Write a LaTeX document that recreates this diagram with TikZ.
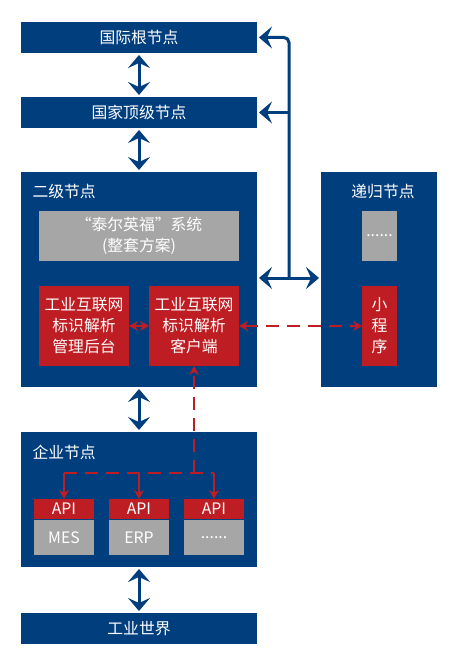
\documentclass[tikz,border=0pt]{standalone}
\usepackage{fontspec}
\setmainfont{Noto Sans CJK SC}
\usetikzlibrary{arrows.meta}

\definecolor{nodeblue}{RGB}{0,62,126}
\definecolor{idred}{RGB}{190,30,35}
\definecolor{boxgray}{RGB}{166,166,166}

\begin{document}
\begin{tikzpicture}[
    x = 1pt, y = -1pt,
    line join=round,
    font = \fontsize{15.8}{21}\selectfont,
    bluebox/.style = {fill=nodeblue, text=white, inner sep=0pt, outer sep=0pt, align=center},
    redbox/.style = {fill=idred, text=white, inner sep=0pt, outer sep=0pt, align=center},
    graybox/.style = {fill=boxgray, text=white, inner sep=0pt, outer sep=0pt, align=center},
    bigtip/.tip = {Stealth[length=13pt, width=22pt, inset=5pt]},
    redtip/.tip = {Stealth[length=9pt, width=10pt, inset=3pt]},
    bigarrow/.style = {nodeblue, line width=3pt, shorten >=2pt, shorten <=2pt},
    redarrow/.style = {idred, line width=1.5pt, -redtip},
    reddash/.style = {redarrow, dash pattern=on 13pt off 8pt}
]

\useasboundingbox[fill=white] (0,0) rectangle (457,666);

\node[bluebox, minimum width=236pt, minimum height=31pt] (root) at (139,37.5) {国际根节点};
\node[bluebox, minimum width=236pt, minimum height=31pt] (top) at (139,112.5) {国家顶级节点};

\node[bluebox, minimum width=236pt, minimum height=215pt] (second) at (139,279.5) {};
\node[text=white, anchor=west] (secondlabel) at (29,192) {二级节点};
\node[graybox, minimum width=200pt, minimum height=50pt] (sys) at (139,236) {“泰尔英福”系统\\(整套方案)};
\node[redbox, minimum width=90pt, minimum height=80pt] (mgmt) at (84,326) {工业互联网\\标识解析\\管理后台};
\node[redbox, minimum width=90pt, minimum height=80pt] (client) at (194,326) {工业互联网\\标识解析\\客户端};

\node[bluebox, minimum width=116pt, minimum height=215pt] (rec) at (379,279.5) {};
\node[text=white] (reclabel) at (383,192) {递归节点};
\node[graybox, minimum width=35pt, minimum height=50pt] (recdots) at (379.5,236) {......};
\node[redbox, minimum width=35pt, minimum height=80pt] (mini) at (379.5,326) {小\\程\\序};

\node[bluebox, minimum width=236pt, minimum height=135pt] (ent) at (139,499.5) {};
\node[text=white, anchor=west] (entlabel) at (29,452) {企业节点};
\node[redbox, minimum width=60pt, minimum height=20pt] (api1) at (64,509) {API};
\node[redbox, minimum width=60pt, minimum height=20pt] (api2) at (139,509) {API};
\node[redbox, minimum width=60pt, minimum height=20pt] (api3) at (214,509) {API};
\node[graybox, minimum width=60pt, minimum height=35pt, anchor=north] (mes) at ([yshift=-1pt]api1.south) {MES};
\node[graybox, minimum width=60pt, minimum height=35pt, anchor=north] (erp) at ([yshift=-1pt]api2.south) {ERP};
\node[graybox, minimum width=60pt, minimum height=35pt, anchor=north] (more) at ([yshift=-1pt]api3.south) {......};

\node[bluebox, minimum width=236pt, minimum height=31pt] (world) at (139,628.5) {工业世界};

\draw[bigarrow, bigtip-bigtip] (root) -- (top);
\draw[bigarrow, bigtip-bigtip] (top) -- (second);
\draw[bigarrow, bigtip-bigtip] (second) -- (ent);
\draw[bigarrow, bigtip-bigtip] (ent) -- (world);

\coordinate (trunk) at (289,278);
\draw[bigarrow, bigtip-bigtip] (second.east |- trunk) -- (rec.west |- trunk);
\draw[bigarrow, shorten <=0pt, rounded corners=5pt, -bigtip] (trunk) -- (trunk |- root.east) -- (root.east);
\draw[bigarrow, shorten <=0pt, -bigtip] (trunk |- top.east) -- (top.east);

\draw[redarrow, redtip-redtip] (mgmt) -- (client);
\draw[reddash, redtip-redtip] (client) -- (mini);

\coordinate (split) at (194,473);
\draw[reddash] (split) -- (client);
\draw[idred, line width=1.5pt, dash pattern=on 13pt off 8pt] (api1.north |- split) -- (api3.north |- split);
\draw[redarrow] (api1.north |- split) -- (api1.north);
\draw[redarrow] (api2.north |- split) -- (api2.north);
\draw[redarrow] (api3.north |- split) -- (api3.north);

\end{tikzpicture}
\end{document}
